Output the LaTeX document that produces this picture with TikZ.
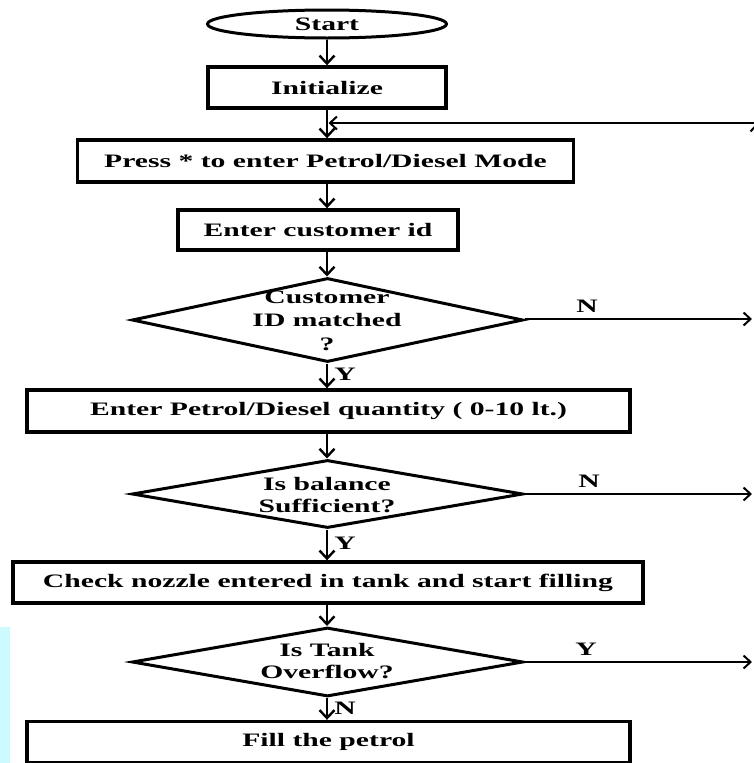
\documentclass[tikz,border=0pt]{standalone}
\usepackage{fontspec}
\setmainfont{Liberation Serif}[FakeStretch=1.56]
\usetikzlibrary{shapes.geometric,arrows.meta}
\definecolor{stripcyan}{RGB}{204,250,255}
\begin{document}
\begin{tikzpicture}[x=1pt,y=-1pt,
  every node/.style={font=\fontsize{19}{22}\selectfont\bfseries, text=black},
  stepbox/.style={draw, line width=3.4pt, rectangle, inner sep=0pt, align=center},
  startshape/.style={draw, line width=3pt, ellipse, inner sep=0pt, minimum width=239pt, minimum height=28pt},
  decision/.style={draw, line width=3pt, diamond, inner sep=0pt},
  lbl/.style={inner sep=0pt, align=center},
  arr/.style={line width=2.6pt, -{Straight Barb[length=8pt,width=15pt,line width=2.4pt]}},
  sidearr/.style={line width=2pt, -{Straight Barb[length=7pt,width=13pt,line width=2pt]}}
]
\useasboundingbox (0,0) rectangle (754,763);
\clip (0,0) rectangle (754,763);
\fill[stripcyan] (0,627) rectangle (10,763);

\node[startshape] (start) at (327,24) {Start};
\node[stepbox, minimum width=238pt, minimum height=41pt] (init) at (327,87.5) {Initialize};
\node[stepbox, minimum width=496pt, minimum height=42pt] (press) at (325.5,161) {Press * to enter Petrol/Diesel Mode};
\node[stepbox, minimum width=280pt, minimum height=40pt] (cust) at (318,230) {Enter customer id};

\node[decision, minimum width=391pt, minimum height=84pt] (d1) at (327.5,320) {};
\node[lbl, font=\fontsize{19}{23.5}\selectfont\bfseries] (d1t) at (327,320.5) {Customer\\ID matched\\?};

\node[stepbox, minimum width=603pt, minimum height=42pt] (qty) at (328.5,411) {Enter Petrol/Diesel quantity ( 0-10 lt.)};

\node[decision, minimum width=391pt, minimum height=68pt] (d2) at (327.5,494) {};
\node[lbl, font=\fontsize{19}{21.5}\selectfont\bfseries] (d2t) at (327,495) {Is balance\\Sufficient?};

\node[stepbox, minimum width=630pt, minimum height=41pt] (check) at (328,582.5) {Check nozzle entered in tank and start filling};

\node[decision, minimum width=391pt, minimum height=69pt] (d3) at (327.5,662) {};
\node[lbl, font=\fontsize{19}{22}\selectfont\bfseries] (d3t) at (327,661.5) {Is Tank\\Overflow?};

\node[stepbox, minimum width=603pt, minimum height=41pt] (fill) at (328.5,742) {Fill the petrol};

% main flow
\coordinate (j) at (327,123);
\draw[arr] (start.south -| j) -- (init.north -| j);
\draw[line width=2.6pt] (init.south -| j) -- (j);
\draw[arr] (j) -- (press.north -| j);
\draw[arr] (press.south -| j) -- (cust.north -| j);
\draw[arr] (cust.south -| j) -- (d1.north -| j);
\draw[arr] (d1.south -| j) -- (qty.north -| j) node[lbl, pos=0.45, right=6pt] (y1) {Y};
\draw[arr] (qty.south -| j) -- (d2.north -| j);
\draw[arr] (d2.south -| j) -- (check.north -| j) node[lbl, pos=0.45, right=6pt] (y2) {Y};
\draw[arr] (check.south -| j) -- (d3.north -| j);
\draw[arr] (d3.south -| j) -- (fill.north -| j) node[lbl, pos=0.45, right=6pt] (n3) {N};

% loop back from the right
\coordinate (rbot) at (757,170);
\coordinate (rtop) at (757,123);
\draw[sidearr] (rbot) -- (rtop);
\draw[sidearr] (rtop) -- ([xshift=1.5pt]j);

% side exits
\coordinate (r1) at (752,319);
\coordinate (r2) at (752,494);
\coordinate (r3) at (752,662);
\draw[sidearr] (d1.east |- r1) -- (r1);
\draw[sidearr] (d2.east) -- (r2);
\draw[sidearr] (d3.east) -- (r3);
\node[lbl] (n1) at (587,306) {N};
\node[lbl] (n2) at (589,481) {N};
\node[lbl] (y3) at (586,649) {Y};
\end{tikzpicture}
\end{document}
